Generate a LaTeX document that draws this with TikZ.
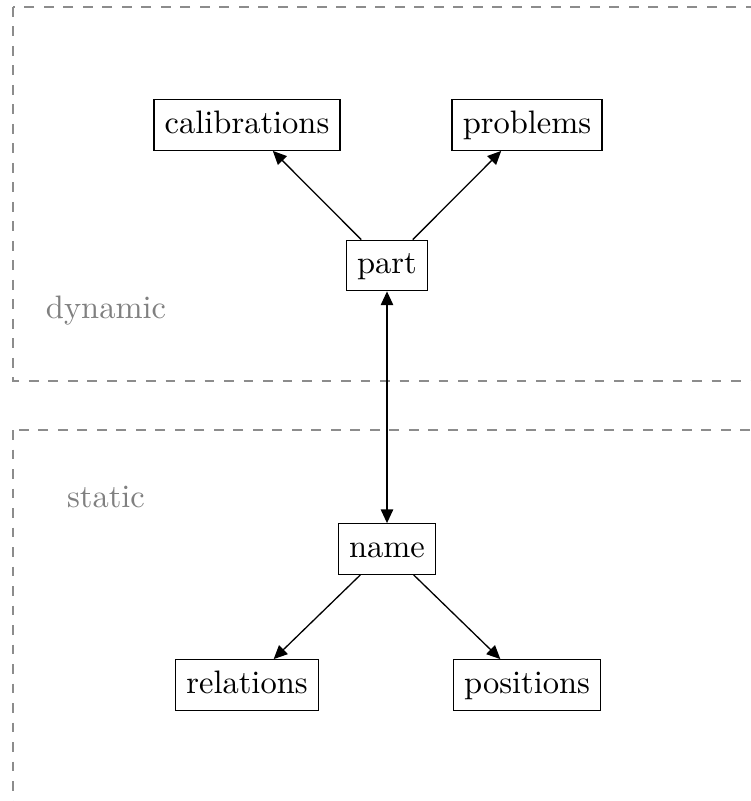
\documentclass[tikz,border=0pt]{standalone}
\usetikzlibrary{arrows.meta}
\begin{document}
\begin{tikzpicture}[x=0.3077pt,y=-0.3077pt,
  box/.style={draw, line width=0.4pt, inner sep=3.33pt, text height=6.94pt, text depth=1.94pt},
  region/.style={draw=black!45, dashed, line width=0.4pt},
  lbl/.style={text=black!50},
  conn/.style={-{Triangle[length=4.2pt,width=3.8pt]}, line width=0.4pt},
  bconn/.style={{Triangle[length=4.2pt,width=3.8pt]}-{Triangle[length=4.2pt,width=3.8pt]}, line width=0.4pt}]
\useasboundingbox (0,0) rectangle (751,801);
\clip (0,0) rectangle (751,801);
\draw[region] (13,7) rectangle (800,381);
\draw[region] (13,430) rectangle (800,850);
\node[lbl] (dyn) at (106,311) {dynamic};
\node[lbl] (sta) at (106,497) {static};
\node[box] (cal) at (247,125) {calibrations};
\node[box] (prob) at (527,125) {problems};
\node[box] (part) at (387,265.5) {part};
\node[box] (name) at (387,549) {name};
\node[box] (rel) at (247,685) {relations};
\node[box] (pos) at (527,685) {positions};
\draw[conn] (part) -- (cal);
\draw[conn] (part) -- (prob);
\draw[bconn] (part) -- (name);
\draw[conn] (name) -- (rel);
\draw[conn] (name) -- (pos);
\end{tikzpicture}
\end{document}
